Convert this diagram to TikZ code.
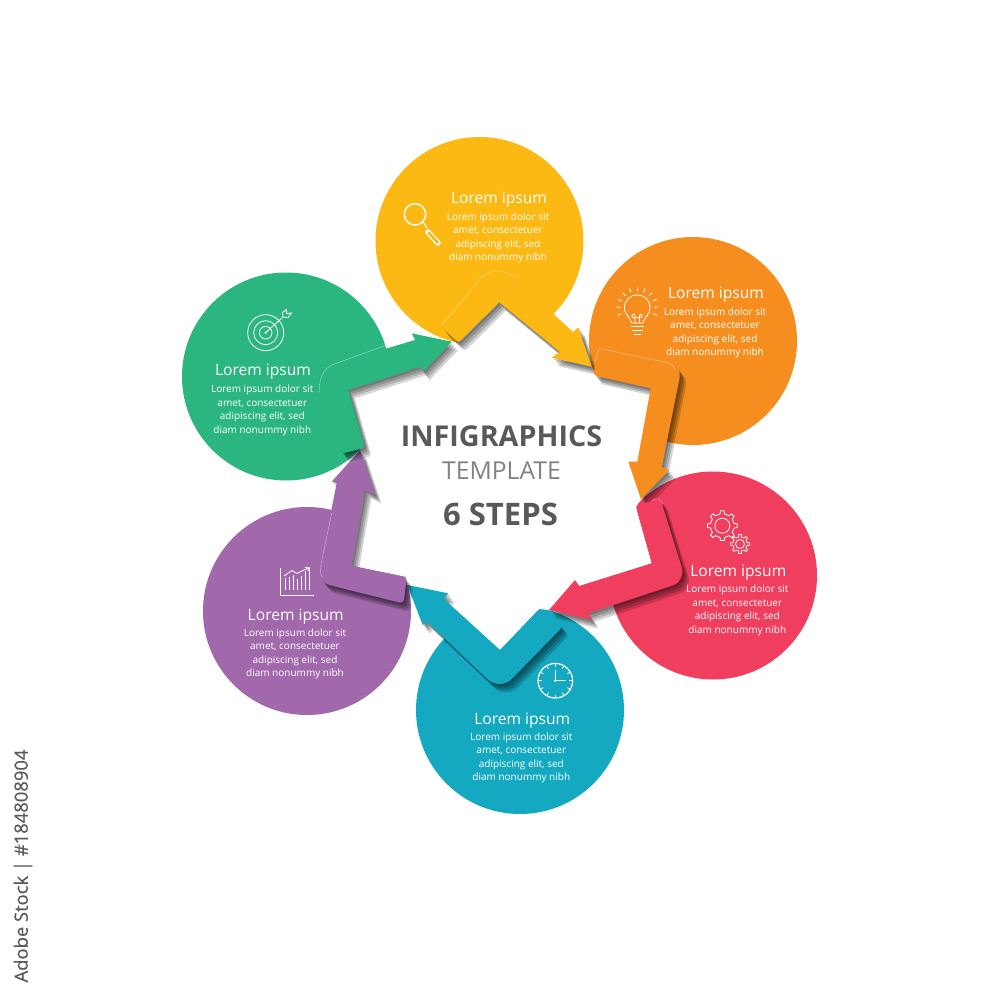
\documentclass[tikz,border=0pt]{standalone}
\usepackage{fontspec}
\setmainfont{Open Sans}
\newfontfamily\creditfont[FakeBold=0.4]{Open Sans}
\definecolor{cyellow}{HTML}{FDB913}
\definecolor{corange}{HTML}{F68E1F}
\definecolor{cred}{HTML}{F03E5E}
\definecolor{cteal}{HTML}{14A9C1}
\definecolor{cpurple}{HTML}{A168AB}
\definecolor{cgreen}{HTML}{2BB67F}
\definecolor{headgrey}{HTML}{58595B}
\definecolor{subgrey}{HTML}{808285}
\tikzset{
  disc/.style={fill=#1},
  steptitle/.style={text=white,font=\fontsize{15.6}{17}\selectfont,inner sep=0pt},
  stepbody/.style={text=white,align=center,inner sep=0pt,font=\fontsize{10}{13.45}\selectfont},
  icon/.style={draw=white,line width=0.8pt,fill=none},
  faint/.style={draw=white,draw opacity=.55,line width=0.4pt,fill=none},
}
\newcommand{\bandarrow}[2]{%
  \foreach \k in {1,2,3,4}{\fill[black,opacity=.17,shift={({\k*1.6},{\k*2.1})}] #2;}
  \fill[#1] #2;}
\newcommand{\steptext}[7]{%
  \node[steptitle] (#1t) at (#2,#3) {Lorem ipsum};
  \node[stepbody] (#1b) at (#4,#5) {Lorem ipsum dolor sit\\amet, consectetuer\\adipiscing elit, sed\\diam nonummy nibh};}
\newcommand{\gearicon}[5]{%
  \draw[icon,shift={(#1,#2)}] (-11.25:#4)
    \foreach \i in {0,...,7}{ -- (\i*45-11.25:#4) -- (\i*45-7:#3) -- (\i*45+7:#3) -- (\i*45+11.25:#4) } -- cycle;
  \draw[icon] (#1,#2) circle (#5);}
\begin{document}
\begin{tikzpicture}[x=1pt,y=-1pt]
\useasboundingbox (0,0) rectangle (1000,1000);
\fill[white] (0,0) rectangle (1000,1000);
% discs
\fill[disc=cyellow] (479.5,241) circle (104);
\fill[disc=corange] (693,341) circle (104);
\fill[disc=cred] (713,575.5) circle (104);
\fill[disc=cteal] (520,710) circle (104);
\fill[disc=cpurple] (307,611) circle (104);
\fill[disc=cgreen] (286,376.5) circle (104);
% central star
\fill[white] (499.3,302.3) -- (592,367) -- (596,376) -- (651,388) -- (641,499) -- (636,507) -- (652,563) -- (549,610) -- (539,609) -- (500,650) -- (407,585) -- (406.7,577) -- (352,566) -- (360,450) -- (365,448) -- (348.3,390) -- (452,342) -- (458,342) -- cycle;
% arrows
\bandarrow{cyellow}{(499.3,302.3) -- (560,352) -- (551.7,357.7) -- (591.7,366.7) -- (578.3,327.3) -- (573,332) [rounded corners=18pt] -- (497,262) [rounded corners=3pt] -- (441,326.5) -- (458.3,343) [sharp corners] -- cycle}
\bandarrow{corange}{(650.7,388.3) -- (637.3,461.7) -- (628.3,461.7) -- (641,499.3) -- (669.3,470) -- (661.7,467.3) [rounded corners=12pt] -- (682,366) [rounded corners=4pt] -- (598.5,348) -- (593.3,375.5) [sharp corners] -- cycle}
\bandarrow{cred}{(651.7,563.3) -- (579,586) -- (575,580) -- (549,610) -- (591.7,620) -- (588.3,613.3) [rounded corners=14pt] -- (686,581) [rounded corners=4pt] -- (660,497.5) -- (636,506.7) [sharp corners] -- cycle}
\bandarrow{cteal}{(500,650) -- (444,599) -- (448.3,593.3) -- (407.3,585) -- (422.7,625) -- (426.7,621.7) [rounded corners=17pt] -- (500,691) [rounded corners=4pt] -- (563,626.5) -- (539.3,609.3) [sharp corners] -- cycle}
\bandarrow{cpurple}{(351.7,565.7) -- (365,490) -- (375,495) -- (360,450) -- (331.7,481.7) -- (336.7,483) [rounded corners=13pt] -- (317,582) [rounded corners=4pt] -- (403.5,603.5) -- (406.7,577.3) [sharp corners] -- cycle}
\bandarrow{cgreen}{(348.3,390) -- (420,366.7) -- (423.3,371.7) -- (451.7,341.7) -- (411.7,333.3) -- (415,340) [rounded corners=14pt] -- (318,369) [rounded corners=3pt] -- (341.7,453.5) -- (365,447.7) [sharp corners] -- cycle}
% faint outlines
\draw[faint] (442,325) -- (480,279) .. controls (488,269) and (503,268) .. (515,278);
\draw[faint] (595,361.7) -- (598.5,350) .. controls (599,348) and (600,348) .. (602,349) -- (667,362.5) .. controls (671,363.5) and (674,366) .. (675,370);
\draw[faint] (652,500.5) .. controls (658,497) and (661,499) .. (663,504);
\draw[faint] (331.7,513) -- (320.5,566.7) .. controls (320,572) and (321,576) .. (323,578);
\draw[faint] (319,393) .. controls (319,380) and (323,368) .. (333,364.5) -- (386.7,345);
% title
\node[text=headgrey,font=\bfseries\fontsize{28.7}{30}\selectfont,inner sep=0pt] (head) at (501.5,436) {INFIGRAPHICS};
\node[text=subgrey,font=\fontsize{24.7}{26}\selectfont,inner sep=0pt] (sub) at (501.5,471) {TEMPLATE};
\node[text=headgrey,font=\bfseries\fontsize{31}{33}\selectfont,inner sep=0pt] (steps) at (500.5,514.5) {6 STEPS};
% step texts
\steptext{y}{499}{200}{498}{238}{}{}
\steptext{o}{716}{295}{715}{333}{}{}
\steptext{r}{738.3}{572.7}{737.3}{610.5}{}{}
\steptext{te}{522.3}{720.3}{521.3}{758}{}{}
\steptext{p}{295.7}{617}{295}{654}{}{}
\steptext{g}{263}{372}{262.3}{410.5}{}{}
% magnifier
\draw[draw=white,line width=1.4pt] (415,214.3) circle (10.7);
\draw[white,line width=1pt] (423,222) -- (427,228);
\draw[white,line width=5.5pt,line cap=round] (428,232) -- (438,243);
\draw[cyellow,line width=2.8pt,line cap=round] (429,233) -- (437.5,242.5);
% bulb
\draw[icon] (631.5,323) .. controls (630,316) and (624.5,315) .. (624.5,307.5) .. controls (624.5,300) and (630,295) .. (637.3,295) .. controls (644.5,295) and (650,300) .. (650,307.5) .. controls (650,315) and (644.5,316) .. (643,323) -- cycle;
\draw[icon] (635,323) -- (635,316) .. controls (635,313) and (631,314) .. (632,317) .. controls (633,318) and (639,318) .. (642,317) .. controls (643,314) and (639.5,313) .. (639.5,316) -- (639.5,323);
\draw[icon] (630.5,326.5) -- (644,326.5);
\draw[icon] (631.5,330) -- (643,330);
\draw[icon] (633.5,334) -- (641,334);
\foreach \a in {160,182,204,226,248,270,292,314,336,358,380}
  \draw[icon] (637.3,308) ++(\a:17) -- ++(\a:4);
% gears
\gearicon{722.3}{525.7}{15}{12}{7.5}
\gearicon{740}{544}{9.5}{7.2}{4.5}
% clock
\draw[draw=white,line width=1.2pt] (555.3,680.7) circle (17.3);
\foreach \a in {0,30,...,330}
  \draw[icon] (555.3,680.7) ++(\a:17.3) -- ++(\a:-3.5);
\draw[white,line width=1pt] (555,670) -- (555,680.7) -- (565.5,680.7);
\fill[white] (555,680.7) circle (1.3);
% chart
\draw[draw=white,line width=1pt] (280,568.3) -- (280,595.7) -- (313.5,595.7);
\foreach \bx/\by in {285.5/578,289.5/577,293.5/575,297.5/579,301.5/576,305.5/571,309.5/569}
  \draw[draw=white,line width=1.2pt] (\bx,589.5) -- (\bx,\by);
\draw[icon] (284,576) -- (292,570.5) -- (297,573.5) -- (304,570) -- (309,568) (305,567.5) -- (309.5,567.8) -- (308,571);
% target
\draw[icon] (265.7,332.7) circle (18);
\draw[icon] (265.7,332.7) circle (12);
\draw[icon] (265.7,332.7) circle (6.3);
\draw[icon] (265.7,332.7) -- (283,317);
\draw[icon] (283,317) -- (282.5,312.5) -- (286.5,309.5) -- (286.5,313.5) -- (291.5,313) -- (288,317.5) -- (283,317);
\fill[white] (265.7,332.7) circle (1.2);
% credit
\node[text=headgrey,rotate=90,font=\creditfont\fontsize{18.4}{21}\selectfont,inner sep=0pt] (credit) at (23,866) {Adobe Stock | \#184808904};
\end{tikzpicture}
\end{document}
